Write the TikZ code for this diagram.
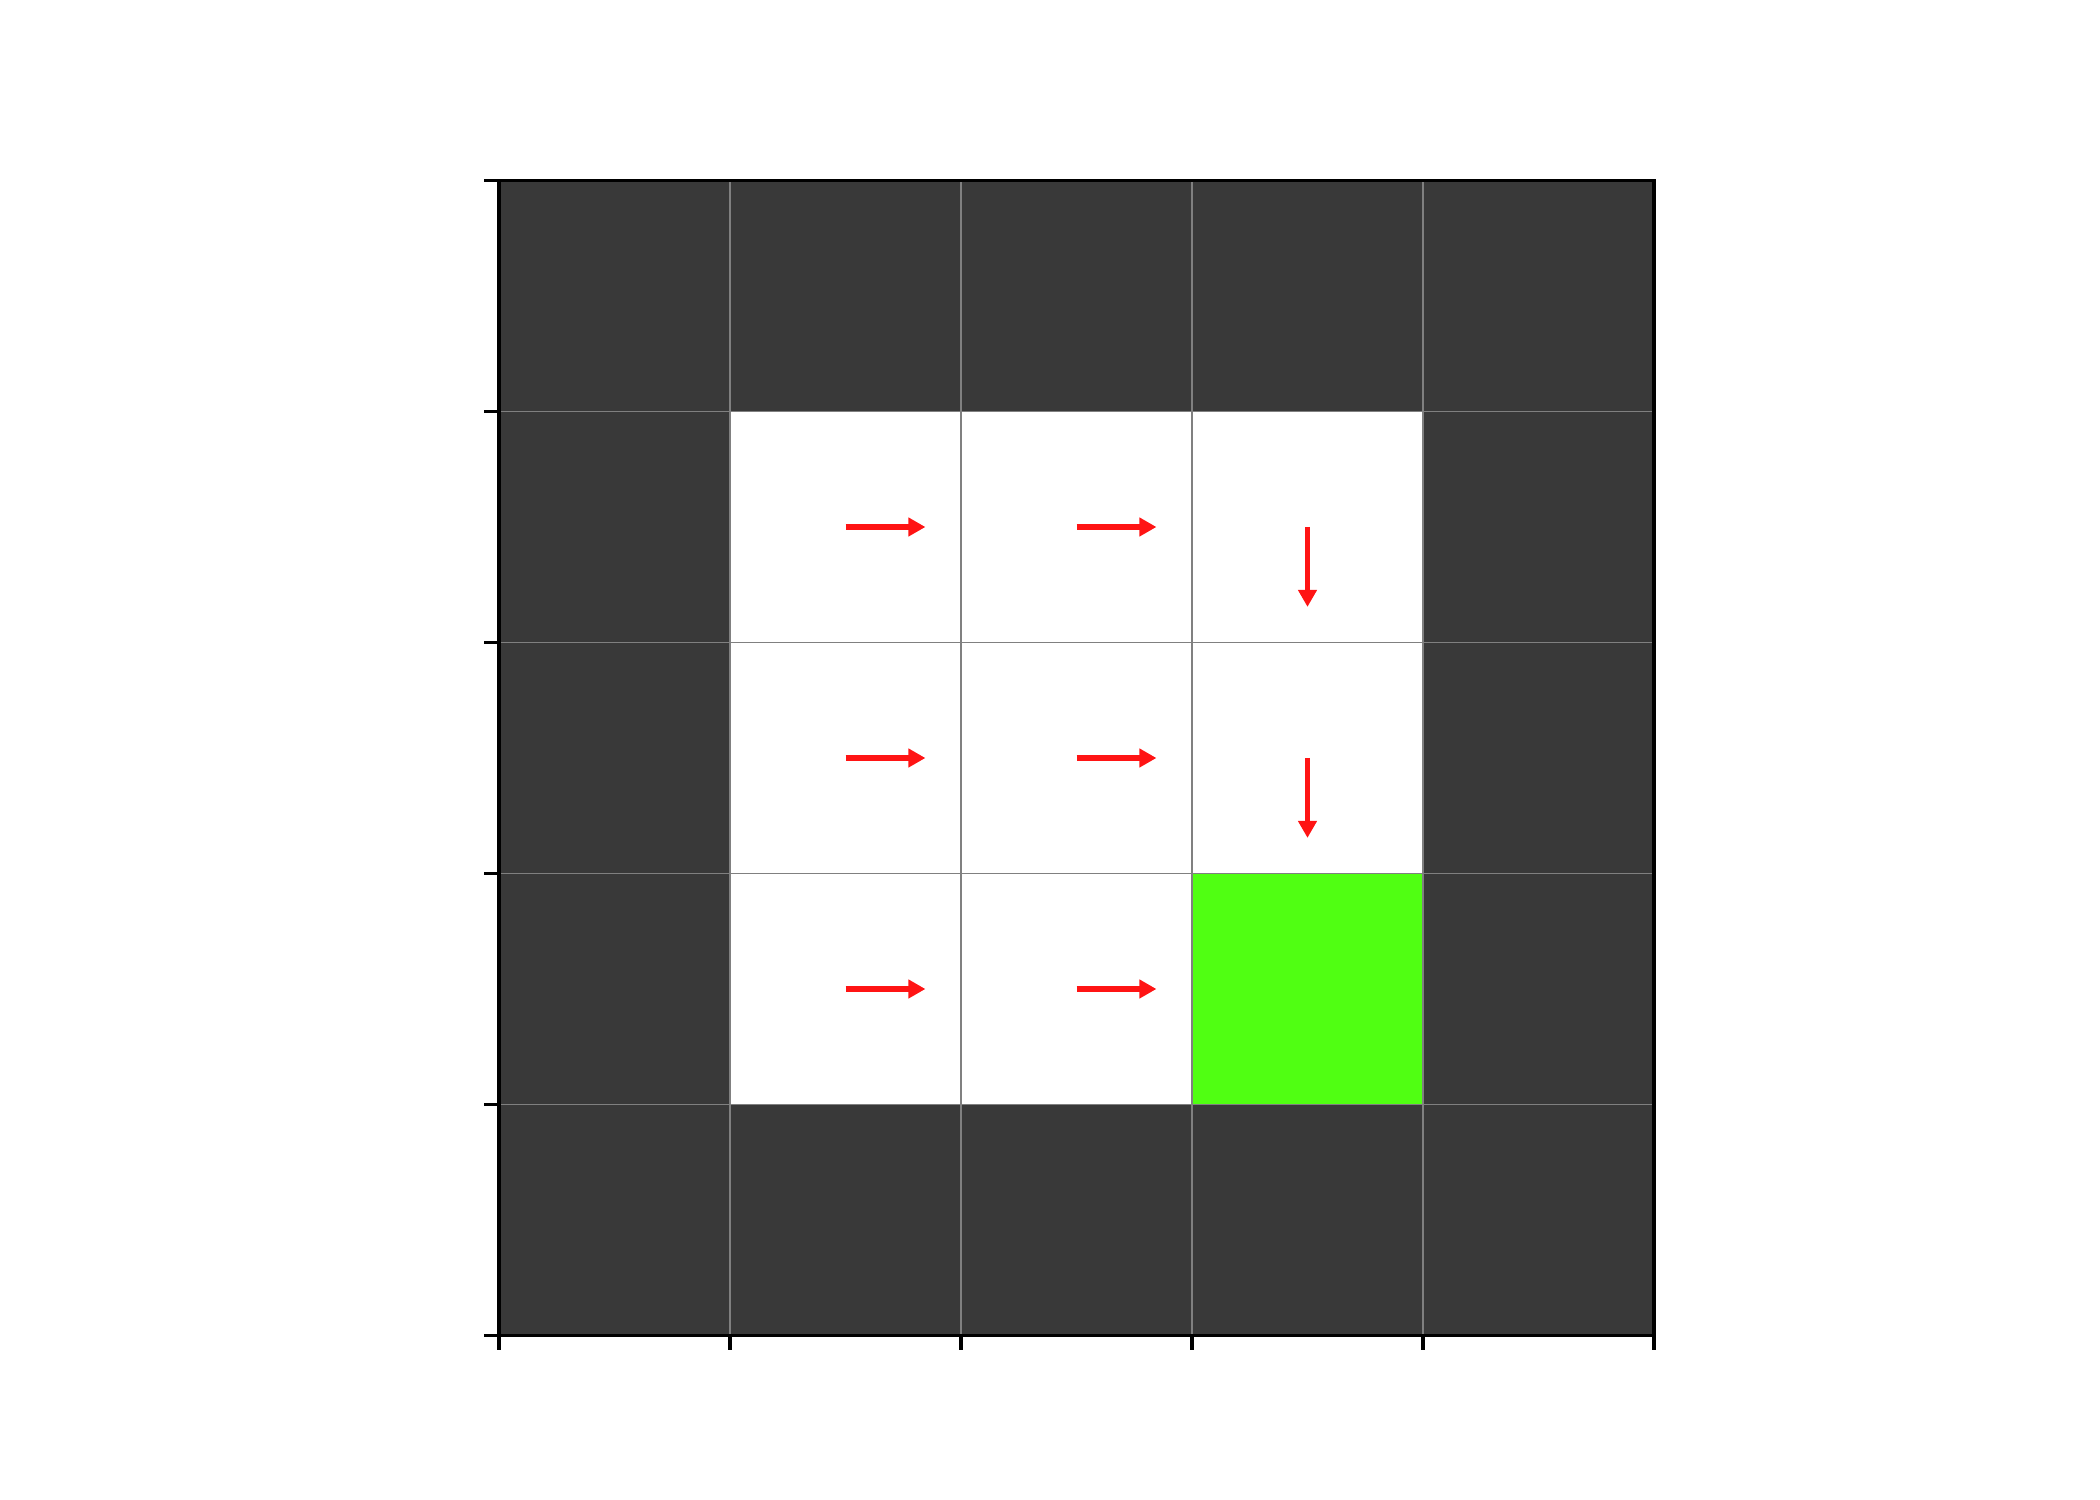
\documentclass[tikz,border=0pt]{standalone}
\usetikzlibrary{arrows.meta}
\definecolor{wall}{RGB}{57,57,57}
\definecolor{goal}{RGB}{80,255,18}
\definecolor{gridgray}{RGB}{128,128,128}
\definecolor{arrowred}{RGB}{255,20,20}
\tikzset{
  wallcell/.style={fill=wall},
  goalcell/.style={fill=goal},
  gridline/.style={draw=gridgray,line width=0.55pt},
  frameline/.style={draw=black,line width=0.9pt},
  tickline/.style={draw=black,line width=0.9pt},
  policy/.style={draw=arrowred,line width=1.7pt,-{Triangle[length=0.17cm,width=0.18cm]}}
}
\begin{document}
\begin{tikzpicture}
\useasboundingbox (0,0) rectangle (21,15);
\begin{scope}[shift={(4.99,1.645)},x=2.31cm,y=2.31cm]
  % walls
  \fill[wallcell] (0,4) rectangle (5,5);
  \fill[wallcell] (0,0) rectangle (5,1);
  \fill[wallcell] (0,1) rectangle (1,4);
  \fill[wallcell] (4,1) rectangle (5,4);
  % goal
  \fill[goalcell] (3,1) rectangle (4,2);
  % grid
  \foreach \i in {1,...,4} {
    \draw[gridline] (\i,0) -- (\i,5);
    \draw[gridline] (0,\i) -- (5,\i);
  }
  % frame
  \draw[frameline] (0,0) rectangle (5,5);
  % ticks
  \foreach \i in {0,...,5} {
    \draw[tickline] (0,\i) -- ++(-0.15cm,0);
    \draw[tickline] (\i,0) -- ++(0,-0.15cm);
  }
  % policy arrows
  \foreach \c/\r in {1/3.5,2/3.5,1/2.5,2/2.5,1/1.5,2/1.5} {
    \coordinate (s) at (\c+0.5,\r);
    \draw[policy] (s) -- ++(0.346,0);
  }
  \foreach \r in {3.5,2.5} {
    \coordinate (t) at (3.5,\r);
    \draw[policy] (t) -- ++(0,-0.346);
  }
\end{scope}
\end{tikzpicture}
\end{document}
